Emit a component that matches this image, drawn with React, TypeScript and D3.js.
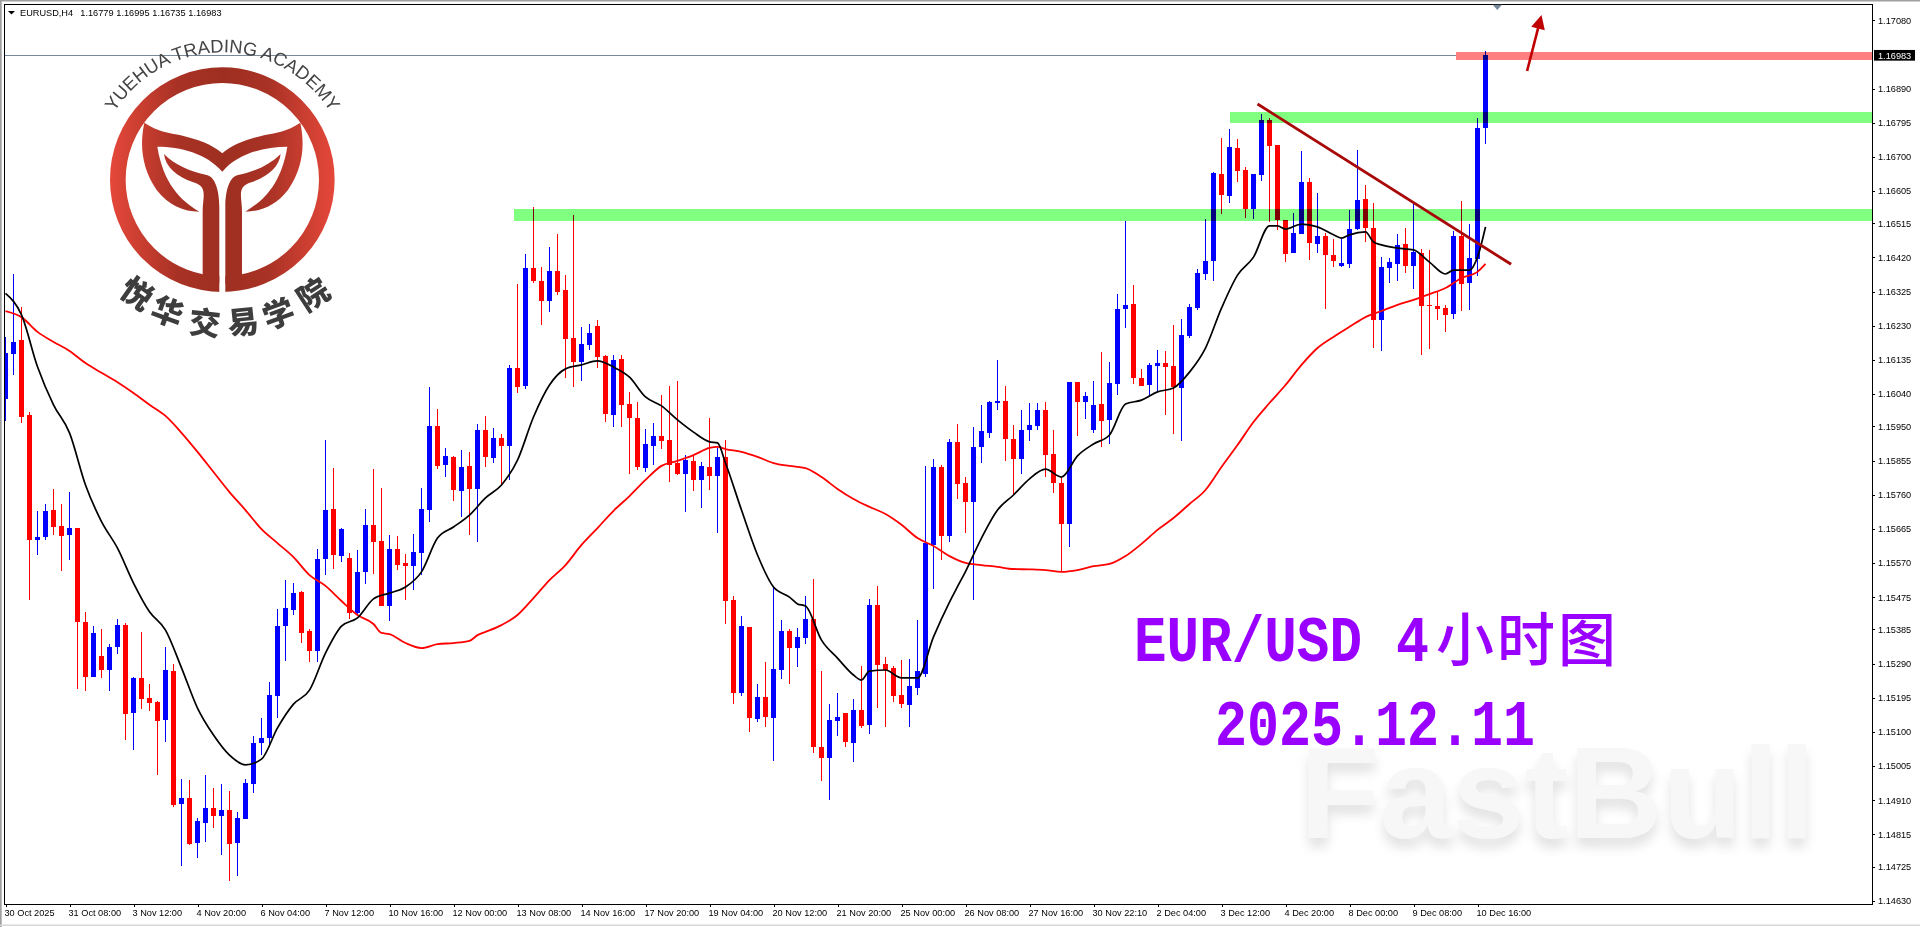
import { useEffect, useRef } from "react";
import * as d3 from "d3";

// prices are read in points (1e-5) off the picture
const pts = (a: number[]) => a.map(d => d / 1e5);

const opens = pts([
  116027,116152,116190,115981,115634,115642,115717,115673,115648,115667,
  115406,115253,115311,115272,115336,115397,115152,115250,115194,115183,
  115133,115269,114899,114916,114791,114846,114888,114866,114882,114791,
  114857,114955,115069,115083,115200,115394,115439,115489,115381,115325,
  115581,115720,115589,115584,115431,115545,115676,115631,115450,115609,
  115570,115561,115598,115717,115951,115842,115865,115770,115840,115776,
  115940,115862,115918,115895,116112,116062,116391,116355,116299,116382,
  116330,116196,116129,116176,116229,116146,115982,116137,116012,115973,
  115834,115895,115923,115912,115848,115817,115854,115801,115837,115812,
  115865,115467,115208,115392,115136,115197,115138,115272,115381,115333,
  115361,115414,115058,115027,115130,115152,115069,115161,115119,115453,
  115289,115278,115202,115175,115222,115261,115620,115837,115645,115907,
  115792,115740,115893,115932,116015,116021,115915,115859,115940,115951,
  115996,115873,115792,115678,116073,116018,115940,116012,115968,116068,
  116277,116291,116085,116065,116118,116126,116118,116057,116201,116279,
  116374,116410,116652,116591,116725,116663,116555,116650,116803,116733,
  116524,116432,116485,116630,116457,116480,116427,116396,116402,116499,
  116583,116502,116246,116391,116402,116457,116396,116432,116288,116285,
  116279,116263,116480,116349,116416,116779,
]);
const highs = pts([
  116198,116374,116281,115991,115715,115733,115775,115733,115767,115667,
  115434,115394,115386,115344,115414,115403,115253,115378,115233,115186,
  115336,115289,114969,114966,114860,114980,114944,114955,114935,114877,
  114969,115088,115138,115239,115442,115522,115514,115492,115386,115609,
  115912,115834,115667,115598,115606,115720,115831,115778,115648,115645,
  115595,115650,115778,116060,115998,115890,115868,115884,115879,115957,
  115979,115945,115929,116121,116346,116430,116560,116393,116449,116485,
  116371,116538,116227,116235,116246,116149,116149,116149,116046,116018,
  115943,115959,116037,116062,116076,115870,115868,115851,115973,115890,
  115912,115478,115423,115392,115233,115294,115503,115411,115386,115389,
  115478,115525,115269,115177,115208,115152,115191,115283,115470,115506,
  115308,115283,115300,115303,115411,115840,115859,115842,115915,115957,
  115809,115948,116010,116021,116135,116062,115954,115996,116015,116015,
  116018,115940,115809,116073,116073,116046,116076,116157,116129,116318,
  116522,116343,116110,116126,116162,116160,116232,116249,116291,116388,
  116527,116658,116752,116777,116750,116672,116652,116819,116808,116733,
  116524,116544,116716,116641,116599,116488,116471,116471,116552,116719,
  116622,116572,116421,116419,116485,116502,116569,116444,116441,116327,
  116288,116494,116577,116513,116808,116995,
]);
const lows = pts([
  115966,116093,115960,115467,115592,115634,115648,115548,115578,115219,
  115214,115253,115250,115214,115317,115077,115049,115163,115158,114980,
  115072,114891,114727,114785,114749,114793,114832,114757,114685,114699,
  114857,114930,115035,115058,115138,115297,115425,115347,115294,115294,
  115536,115553,115573,115414,115425,115511,115539,115450,115408,115550,
  115467,115495,115536,115684,115831,115809,115742,115698,115648,115628,
  115837,115848,115784,115801,116043,116054,116349,116232,116268,116316,
  116085,116060,116076,116162,116112,115962,115948,115948,115817,115829,
  115823,115842,115887,115795,115815,115712,115770,115723,115773,115653,
  115400,115177,115200,115100,115127,115113,115019,115247,115233,115280,
  115344,115041,114963,114910,115088,115058,115016,115111,115094,115166,
  115113,115183,115166,115113,115202,115253,115497,115578,115628,115748,
  115653,115467,115848,115918,115996,115854,115762,115817,115909,115940,
  115809,115765,115545,115614,115923,115970,115932,115893,115901,116037,
  116224,116068,116062,116037,116048,115982,115929,115909,116196,116274,
  116357,116355,116541,116572,116630,116530,116527,116633,116519,116496,
  116407,116432,116485,116413,116432,116277,116393,116393,116391,116496,
  116463,116168,116160,116349,116355,116377,116332,116149,116165,116246,
  116213,116249,116271,116274,116368,116735,
]);
const closes = pts([
  116153,116185,115977,115634,115642,115715,115670,115645,115667,115406,
  115253,115375,115272,115336,115397,115150,115250,115191,115180,115130,
  115272,114896,114916,114788,114852,114888,114866,114882,114788,114860,
  114958,115069,115083,115202,115394,115445,115486,115375,115325,115581,
  115717,115592,115664,115431,115545,115676,115628,115450,115609,115564,
  115561,115600,115720,115951,115840,115868,115773,115837,115776,115940,
  115865,115918,115895,116112,116060,116391,116355,116299,116382,116324,
  116193,116129,116179,116210,116143,115984,116135,116010,115973,115837,
  115901,115923,115909,115842,115817,115856,115801,115840,115812,115865,
  115464,115208,115394,115138,115197,115141,115275,115381,115333,115364,
  115414,115058,115027,115133,115141,115072,115161,115116,115453,115286,
  115272,115200,115177,115228,115269,115625,115837,115645,115907,115790,
  115740,115893,115937,116018,116021,115915,115859,115940,115954,115996,
  115870,115792,115678,116073,116018,116034,116010,115965,116071,116277,
  116288,116085,116062,116121,116126,116115,116060,116204,116282,116377,
  116410,116655,116594,116727,116661,116555,116652,116803,116730,116524,
  116430,116488,116630,116460,116480,116427,116410,116405,116499,116580,
  116502,116246,116393,116407,116455,116396,116435,116285,116285,116277,
  116260,116480,116346,116419,116780,116983,
]);

// black moving average, read every couple of bars
const fastBars = [0,2,4,6,8,10,12,14,16,18,20,22,24,26,28,30,32,34,36,38,40,42,44,46,48,50,52,54,56,58,60,62,64,66,68,70,72,74,76,78,80,82,84,86,88,89,90,92,94,96,98,99,100,102,104,106,107,108,110,112,114,116,118,119,120,122,124,126,128,130,132,134,136,138,140,142,144,146,148,150,152,154,156,158,159,160,162,164,166,167,168,170,171,172,174,176,178,180,181,183,184,185];
const fastValues = pts([116320,116260,116116,116010,115932,115787,115685,115611,115514,115434,115383,115278,115166,115091,115035,115008,115024,115111,115177,115216,115319,115394,115417,115470,115486,115503,115545,115639,115670,115703,115751,115787,115856,115976,116065,116110,116121,116132,116115,116087,116032,116007,115968,115934,115907,115904,115848,115717,115592,115503,115475,115456,115450,115355,115305,115258,115244,115269,115272,115250,115250,115364,115461,115504,115546,115639,115717,115759,115804,115831,115809,115868,115901,115926,116012,116023,116046,116057,116101,116168,116279,116371,116421,116508,116508,116499,116513,116505,116483,116474,116483,116491,116463,116455,116446,116441,116407,116374,116385,116385,116421,116505]);

// red moving average
const slowBars = [0,2,4,6,8,10,12,14,16,18,20,22,24,26,28,30,32,34,36,38,40,42,44,46,47,48,50,52,54,56,58,59,60,62,64,66,68,70,72,74,76,78,80,82,84,86,88,89,90,92,94,96,98,100,102,104,106,108,110,112,114,116,118,120,122,124,126,128,130,132,134,136,138,140,142,144,146,148,150,152,154,156,158,160,162,164,166,168,170,172,174,176,178,180,182,184,185];
const slowValues = pts([116271,116254,116213,116185,116160,116126,116099,116073,116043,116010,115979,115932,115879,115823,115767,115717,115664,115625,115586,115536,115506,115464,115425,115400,115375,115372,115347,115333,115344,115347,115353,115369,115378,115397,115425,115472,115522,115564,115620,115667,115715,115756,115801,115840,115854,115870,115890,115893,115887,115879,115865,115848,115840,115834,115809,115776,115748,115726,115706,115676,115639,115617,115589,115570,115564,115559,115553,115552,115550,115545,115550,115561,115567,115589,115623,115662,115695,115734,115773,115837,115898,115962,116015,116065,116121,116168,116199,116227,116254,116271,116288,116302,116318,116335,116363,116380,116402]);

const priceTicks = [1.1708,1.1689,1.16795,1.167,1.16605,1.16515,1.1642,1.16325,1.1623,1.16135,1.1604,1.1595,1.15855,1.1576,1.15665,1.1557,1.15475,1.15385,1.1529,1.15195,1.151,1.15005,1.1491,1.14815,1.14725,1.1463];
const timeLabels = ["30 Oct 2025","31 Oct 08:00","3 Nov 12:00","4 Nov 20:00","6 Nov 04:00","7 Nov 12:00","10 Nov 16:00","12 Nov 00:00","13 Nov 08:00","14 Nov 16:00","17 Nov 20:00","19 Nov 04:00","20 Nov 12:00","21 Nov 20:00","25 Nov 00:00","26 Nov 08:00","27 Nov 16:00","30 Nov 22:10","2 Dec 04:00","3 Dec 12:00","4 Dec 20:00","8 Dec 00:00","9 Dec 08:00","10 Dec 16:00"];

const lastPrice = 1.16983;
const zones = [
  { from: 63.6, top: 1.16555, bottom: 1.16522, fill: "#80ff80" },
  { from: 153.1, top: 1.16826, bottom: 1.16794, fill: "#80ff80" },
  { from: 181.3, top: 1.16992, bottom: 1.1697, fill: "#ff8080" },
];
const trendBars = [156.5, 188.2];
const trendPrices = [1.16847, 1.16401];
const arrowBars = [190.2, 192];
const arrowPrices = [1.16939, 1.17095];

const barCount = 233;
const left = 4, top = 4, right = 1872, bottom = 904;
const FONT = "'Liberation Sans', Arial, sans-serif";

const crownPath = "M193 308C180 370 182 440 230 510C265 555 310 575 358 575C300 540 250 490 232 380C300 380 380 400 427 455C474 400 554 380 622 380C604 490 554 540 496 575C544 575 589 555 624 510C672 440 674 370 661 308C620 335 590 338 555 345C500 358 460 372 427 400C394 372 354 358 299 345C264 338 234 335 193 308Z";
const stemPath = "M252 402C256 440 290 470 340 487C385 500 368 530 368 575L368 765L390 812C405 812 418 800 418 785L418 560C418 510 405 470 380 465C330 455 285 435 252 402Z";

function Logo() {
  return (
    <g transform="translate(80,20) scale(0.3333)">
      <defs>
        <linearGradient id="logoRed" gradientUnits="userSpaceOnUse" x1="90" x2="765" y1="0" y2="0">
          <stop offset="0" stopColor="#e5483a" />
          <stop offset="0.3" stopColor="#a83225" />
          <stop offset="0.5" stopColor="#9e2f20" />
          <stop offset="0.7" stopColor="#a83225" />
          <stop offset="1" stopColor="#e5483a" />
        </linearGradient>
        <path id="logoArc" d="M45 479A382 382 0 0 1 809 479" fill="none" />
      </defs>
      <circle cx={427} cy={479} r={313.5} fill="none" stroke="url(#logoRed)" strokeWidth={47} />
      <rect x={418} y={740} width={18} height={90} fill="#fff" />
      <path d={crownPath} fill="url(#logoRed)" />
      <path d={stemPath} fill="url(#logoRed)" />
      <path d={stemPath} fill="url(#logoRed)" transform="translate(854,0) scale(-1,1)" />
      <text fontFamily={FONT} fontSize={55} fill="#444">
        <textPath href="#logoArc" startOffset="50%" textAnchor="middle">YUEHUA TRADING ACADEMY</textPath>
      </text>
      {[["悦", 174, 816, 35], ["华", 264, 870, 20], ["交", 375, 903, 6], ["易", 489, 900, -6], ["学", 594, 876, -20], ["院", 696, 819, -33]].map(([c, x, y, r]) => (
        <text key={c as string} transform={`translate(${x},${y}) rotate(${r})`} textAnchor="middle" dominantBaseline="central"
          fontFamily="'Noto Sans CJK SC'" fontWeight={900} fontSize={94} fill="#3d3d3d">{c}</text>
      ))}
    </g>
  );
}

export default function App() {
  const chartRef = useRef<SVGGElement>(null);

  useEffect(() => {
    document.body.style.margin = "0";
    document.body.style.overflow = "hidden";
    const g = d3.select(chartRef.current);
    g.selectAll("*").remove();

    const x = d3.scaleLinear().domain([0, barCount]).range([5.5, 5.5 + 8 * barCount]);
    const y = d3.scaleLinear().domain([1.1708, 1.1463]).range([20.3, 900.7]);

    // candles
    const candles = g.append("g").attr("clip-path", "url(#plotClip)").attr("shape-rendering", "crispEdges");
    opens.forEach((o, i) => {
      const c = closes[i];
      const color = c >= o ? "#0000ff" : "#ff0000";
      candles.append("line")
        .attr("x1", x(i)).attr("x2", x(i))
        .attr("y1", y(highs[i])).attr("y2", y(lows[i]))
        .attr("stroke", color).attr("stroke-width", 1);
      candles.append("rect")
        .attr("x", x(i) - 2.5).attr("width", 5)
        .attr("y", y(Math.max(o, c)))
        .attr("height", Math.max(1, Math.abs(y(o) - y(c))))
        .attr("fill", color);
    });

    // moving averages
    const maLine = d3.line<number[]>().x(d => x(d[0])).y(d => y(d[1])).curve(d3.curveMonotoneX);
    g.append("path").attr("d", maLine(d3.zip(slowBars, slowValues)))
      .attr("fill", "none").attr("stroke", "#ff0000").attr("stroke-width", 1.8);
    g.append("path").attr("d", maLine(d3.zip(fastBars, fastValues)))
      .attr("fill", "none").attr("stroke", "#000").attr("stroke-width", 1.7);

    // current price line, stops where the pink zone starts
    g.append("line")
      .attr("x1", left).attr("x2", x(zones[2].from))
      .attr("y1", y(lastPrice)).attr("y2", y(lastPrice))
      .attr("stroke", "#778899").attr("stroke-width", 1).attr("shape-rendering", "crispEdges");

    // marked zones, multiplied over the candles
    zones.forEach(z => {
      g.append("rect")
        .attr("x", x(z.from)).attr("width", right - x(z.from))
        .attr("y", y(z.top)).attr("height", y(z.bottom) - y(z.top))
        .attr("fill", z.fill).attr("shape-rendering", "crispEdges")
        .style("mix-blend-mode", "multiply");
    });

    // trend line
    g.append("line")
      .attr("x1", x(trendBars[0])).attr("y1", y(trendPrices[0]))
      .attr("x2", x(trendBars[1])).attr("y2", y(trendPrices[1]))
      .attr("stroke", "#a80808").attr("stroke-width", 2.8);

    // arrow
    const ax0 = x(arrowBars[0]), ay0 = y(arrowPrices[0]);
    const ax1 = x(arrowBars[1]), ay1 = y(arrowPrices[1]);
    const len = Math.hypot(ax1 - ax0, ay1 - ay0);
    const ux = (ax1 - ax0) / len, uy = (ay1 - ay0) / len;
    g.append("line")
      .attr("x1", ax0).attr("y1", ay0)
      .attr("x2", ax1 - 10 * ux).attr("y2", ay1 - 10 * uy)
      .attr("stroke", "#c00000").attr("stroke-width", 2.6);
    g.append("path")
      .attr("d", d3.line()([
        [ax1, ay1],
        [ax1 - 14 * ux - 7 * uy, ay1 - 14 * uy + 7 * ux],
        [ax1 - 14 * ux + 7 * uy, ay1 - 14 * uy - 7 * ux],
      ]) + "Z")
      .attr("fill", "#c00000");

    // axes
    const yAxis = g.append("g").attr("transform", `translate(${right},0)`)
      .call(d3.axisRight(y).tickValues(priceTicks).tickSize(3).tickPadding(3).tickFormat(d => (+d).toFixed(5)));
    const xAxis = g.append("g").attr("transform", `translate(0,${bottom})`)
      .call(d3.axisBottom(x).tickValues(timeLabels.map((_, i) => i * 8)).tickSize(3).tickPadding(3)
        .tickFormat((_, i) => timeLabels[i]));
    [yAxis, xAxis].forEach(ax => {
      ax.select(".domain").remove();
      ax.selectAll(".tick line").attr("stroke", "#000").attr("shape-rendering", "crispEdges");
      ax.selectAll(".tick text").attr("fill", "#000").attr("font-size", 9.2).attr("font-family", FONT);
    });
    xAxis.selectAll(".tick text").attr("text-anchor", "start").attr("dx", -1.5).attr("y", 5.5);

    // last price tag
    g.append("rect").attr("x", 1874).attr("width", 41)
      .attr("y", y(lastPrice) - 5.2).attr("height", 10.7).attr("fill", "#000");
    g.append("text").attr("x", 1878).attr("y", y(lastPrice) + 3.4)
      .attr("fill", "#fff").attr("font-size", 9.2).attr("font-family", FONT)
      .text(lastPrice.toFixed(5));

    // frame
    g.append("rect")
      .attr("x", left).attr("y", top).attr("width", right - left).attr("height", bottom - top)
      .attr("fill", "none").attr("stroke", "#000").attr("shape-rendering", "crispEdges");
  }, []);

  return (
    <svg width={1920} height={927} style={{ display: "block" }}>
      <defs>
        <clipPath id="plotClip"><rect x={5} y={top} width={right - 5} height={bottom - top} /></clipPath>
        <filter id="softShadow" x="-10%" y="-20%" width="120%" height="150%">
          <feDropShadow dx="0" dy="9" stdDeviation="6" floodColor="#d8d8d8" floodOpacity="0.75" />
        </filter>
      </defs>
      <rect width={1920} height={927} fill="#fff" />
      <rect x={0} y={0} width={1920} height={1.5} fill="#a0a0a0" />
      <rect x={0} y={0} width={1.7} height={927} fill="#a0a0a0" />
      <rect x={0} y={924.5} width={1920} height={1.5} fill="#d8d8d8" />

      {/* watermark */}
      <text x={1300} y={838} fontFamily={FONT} fontWeight={700} fontSize={130} fill="#f7f7f7"
        textLength={515} lengthAdjust="spacingAndGlyphs" filter="url(#softShadow)">FastBull</text>

      <g ref={chartRef} />

      <Logo />

      {/* header */}
      <path d="M8 11L15 11L11.5 14.5Z" fill="#000" />
      <g fontFamily={FONT} fontSize={9.2} fill="#000">
        <text x={20} y={15.5}>EURUSD,H4</text>
        <text x={80.3} y={15.5}>1.16779</text>
        <text x={116.3} y={15.5}>1.16995</text>
        <text x={152.3} y={15.5}>1.16735</text>
        <text x={188.3} y={15.5}>1.16983</text>
      </g>
      <path d="M1492.7 4.7L1502 4.7L1497.3 10Z" fill="#778899" />

      {/* title */}
      <g fill="#9900ff" fontWeight={700}>
        <text x={1134} y={660.7} fontFamily="'Liberation Mono'" fontSize={64} textLength={228} lengthAdjust="spacingAndGlyphs">EUR/USD</text>
        <text x={1396} y={660.7} fontFamily="'Liberation Mono'" fontSize={64} textLength={33} lengthAdjust="spacingAndGlyphs">4</text>
        <text x={1436} y={661} fontFamily="'Noto Sans CJK SC'" fontSize={58} fontWeight={500} textLength={180} lengthAdjust="spacing">小时图</text>
        <text x={1215} y={745} fontFamily="'Liberation Mono'" fontSize={64} textLength={320} lengthAdjust="spacingAndGlyphs">2025.12.11</text>
      </g>
    </svg>
  );
}
